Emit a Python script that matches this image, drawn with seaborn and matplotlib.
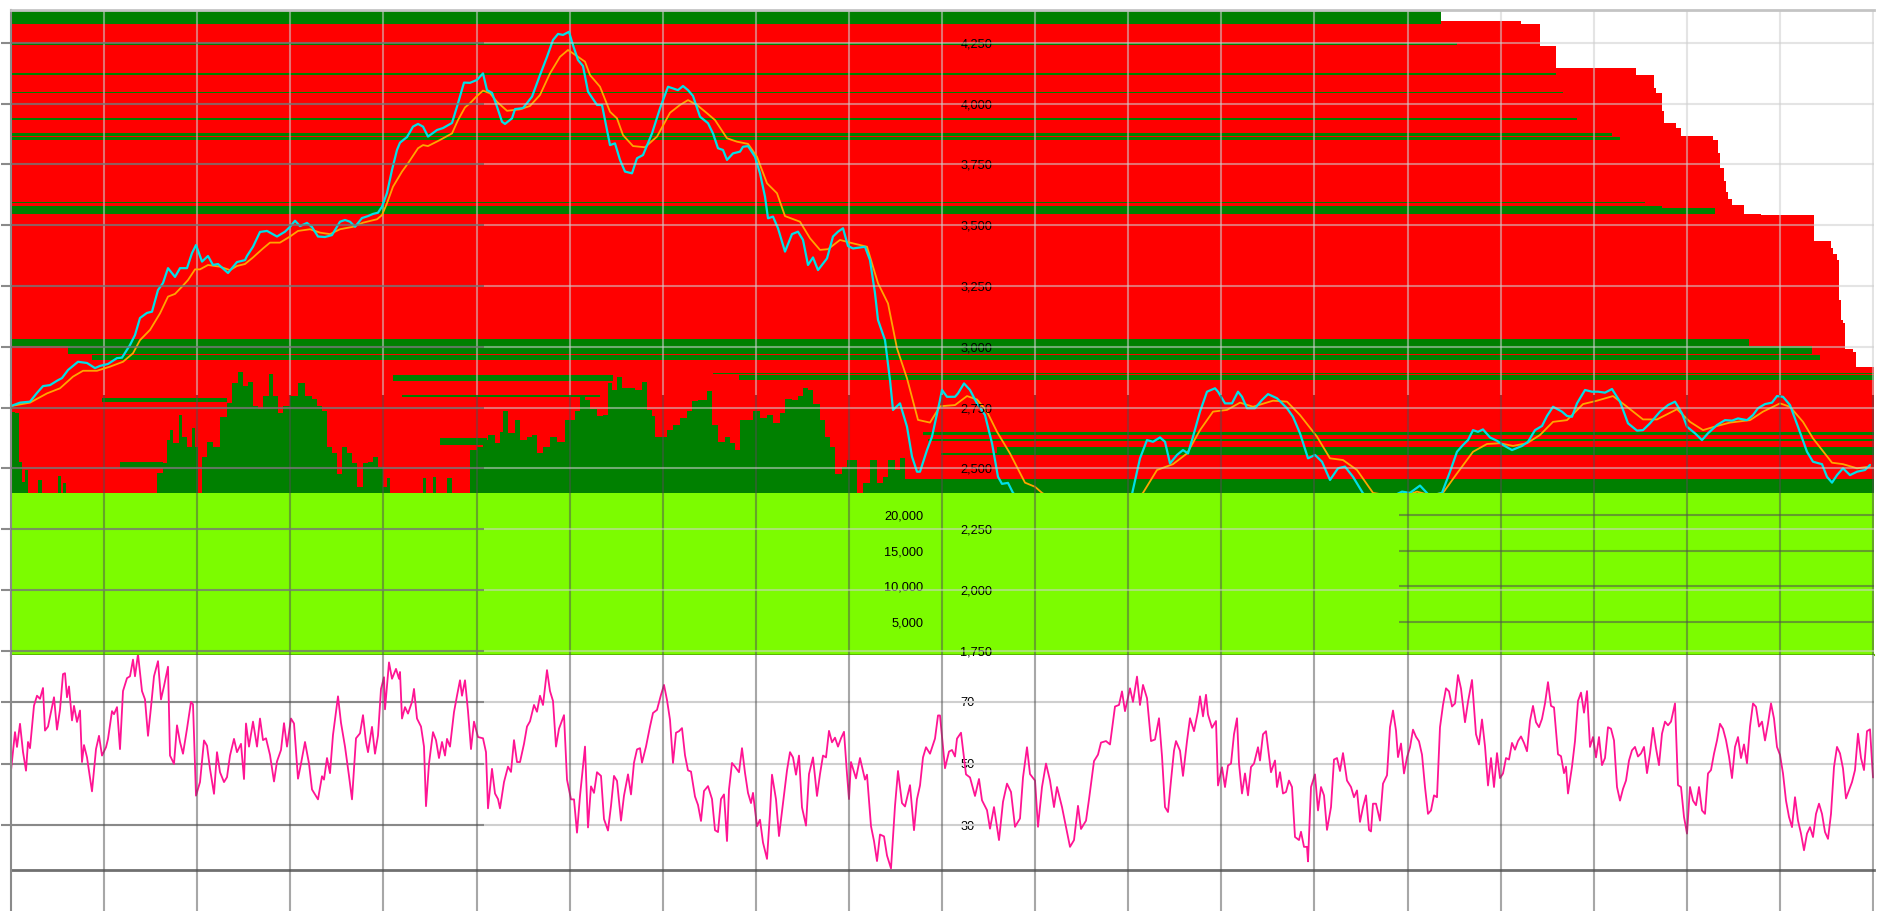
import numpy as np
import matplotlib
matplotlib.use("Agg")
import matplotlib.pyplot as plt
import seaborn as sns

# ---- data (x = bar position, left edge 11, right edge 1874) ----
price_ticks = [1750, 2000, 2250, 2500, 2750, 3000, 3250, 3500, 3750, 4000, 4250]
vol_ticks = [5000, 10000, 15000, 20000]
rsi_ticks = [30, 50, 70]

# red profile: top of each step (price) and where the step ends (x)
red_top = [4339, 4327, 4236, 4146, 4117, 4064, 4043, 3969, 3920, 3899, 3866, 3850, 3796, 3735, 3681,
           3636, 3607, 3583, 3546, 3542, 3435, 3406, 3381, 3357, 3192, 3110, 3097, 2990, 2978, 2916]
red_end = [1521, 1540, 1556, 1636, 1654, 1656, 1662, 1664, 1676, 1681, 1713, 1718, 1720, 1724, 1726,
           1728, 1732, 1744, 1761, 1814, 1831, 1833, 1837, 1839, 1841, 1843, 1845, 1853, 1856, 1874]

# green bands
green_hi = [4384, 4249, 4125, 4049, 3940, 3879, 3862, 3595, 3579, 3570, 3030, 3001, 2966, 2892, 2884,
            2884, 2788, 2801, 2526, 2625, 2649, 2621, 2588, 2563, 2457]
green_lo = [4327, 4241, 4117, 4043, 3934, 3866, 3850, 3589, 3570, 3546, 3001, 2972, 2945, 2886, 2859,
            2863, 2773, 2795, 2501, 2597, 2636, 2612, 2555, 2555, 1733]
green_from = [11, 11, 11, 11, 11, 11, 11, 11, 11, 11, 11, 68, 92, 713, 393,
              739, 102, 402, 120, 440, 923, 928, 997, 941, 903]
green_to = [1441, 1457, 1556, 1563, 1577, 1612, 1620, 1645, 1662, 1715, 1749, 1812, 1820, 1874, 613,
            1874, 227, 600, 163, 487, 1874, 1874, 1874, 997, 1874]

price_pts = [(11, 2756), (20, 2770), (30, 2774), (37, 2810), (43, 2838), (50, 2842), (57, 2860), (62, 2871),
    (68, 2904), (78, 2938), (87, 2933), (95, 2912), (100, 2921), (108, 2929), (117, 2953), (122, 2955),
    (130, 3007), (135, 3048), (140, 3118), (147, 3139), (152, 3144), (158, 3233), (163, 3262), (168, 3323),
    (175, 3287), (180, 3323), (187, 3323), (192, 3385), (196, 3418), (202, 3350), (208, 3373), (213, 3336),
    (218, 3340), (228, 3303), (237, 3348), (245, 3356), (247, 3373), (253, 3411), (260, 3472), (267, 3476),
    (277, 3453), (285, 3473), (290, 3493), (295, 3518), (300, 3496), (307, 3509), (312, 3492), (318, 3453),
    (325, 3451), (332, 3459), (340, 3514), (345, 3521), (350, 3514), (355, 3493), (362, 3529), (368, 3537),
    (373, 3546), (378, 3551), (382, 3576), (387, 3632), (392, 3727), (397, 3809), (400, 3839), (407, 3862),
    (413, 3905), (418, 3916), (423, 3905), (428, 3864), (437, 3891), (443, 3899), (452, 3920), (457, 3987),
    (464, 4086), (470, 4085), (477, 4097), (483, 4124), (487, 4055), (492, 4044), (497, 3987), (502, 3925),
    (505, 3916), (512, 3939), (515, 3977), (523, 3981), (532, 4028), (540, 4117), (547, 4192), (553, 4261),
    (558, 4286), (563, 4282), (569, 4295), (573, 4240), (578, 4179), (583, 4154), (588, 4049), (597, 3994),
    (602, 3994), (607, 3891), (610, 3829), (615, 3836), (620, 3768), (625, 3720), (632, 3713), (637, 3775),
    (643, 3788), (652, 3877), (660, 3980), (668, 4069), (673, 4062), (678, 4055), (683, 4072), (688, 4055),
    (693, 4031), (700, 3946), (708, 3919), (713, 3877), (718, 3816), (723, 3809), (727, 3768), (733, 3795),
    (740, 3802), (743, 3822), (748, 3825), (755, 3781), (760, 3713), (765, 3617), (768, 3528), (773, 3535),
    (778, 3487), (785, 3391), (792, 3463), (798, 3473), (803, 3439), (808, 3336), (813, 3367), (818, 3315),
    (827, 3363), (833, 3453), (838, 3473), (843, 3487), (848, 3414), (853, 3404), (865, 3411), (870, 3356),
    (875, 3220), (878, 3110), (885, 3027), (890, 2863), (893, 2740), (900, 2767), (907, 2671), (912, 2548),
    (917, 2486), (920, 2486), (927, 2575), (932, 2630), (940, 2781), (942, 2822), (947, 2794), (955, 2794),
    (958, 2808), (964, 2849), (970, 2822), (977, 2767), (985, 2719), (992, 2603), (998, 2465), (1002, 2436),
    (1008, 2440), (1013, 2399), (1030, 2330), (1060, 2280), (1090, 2260), (1110, 2300), (1125, 2360),
    (1132, 2394), (1140, 2541), (1147, 2616), (1153, 2609), (1160, 2627), (1165, 2609), (1170, 2520),
    (1177, 2555), (1183, 2575), (1188, 2561), (1193, 2630), (1200, 2733), (1207, 2815), (1215, 2829),
    (1218, 2815), (1225, 2767), (1232, 2767), (1238, 2815), (1242, 2794), (1247, 2747), (1255, 2747),
    (1262, 2781), (1268, 2805), (1277, 2788), (1287, 2747), (1293, 2712), (1300, 2644), (1308, 2541),
    (1315, 2555), (1322, 2527), (1330, 2452), (1338, 2500), (1345, 2507), (1353, 2465), (1363, 2397),
    (1380, 2350), (1395, 2390), (1402, 2404), (1410, 2399), (1420, 2429), (1430, 2385), (1442, 2399),
    (1450, 2486), (1457, 2568), (1463, 2596), (1468, 2616), (1473, 2657), (1478, 2650), (1483, 2660),
    (1490, 2627), (1497, 2613), (1503, 2596), (1512, 2575), (1522, 2592), (1528, 2609), (1535, 2657),
    (1542, 2674), (1547, 2715), (1553, 2753), (1562, 2733), (1567, 2715), (1572, 2712), (1577, 2767),
    (1585, 2822), (1592, 2815), (1598, 2815), (1605, 2811), (1612, 2826), (1620, 2774), (1628, 2685),
    (1637, 2655), (1643, 2657), (1650, 2685), (1660, 2733), (1668, 2760), (1675, 2774), (1682, 2726),
    (1687, 2671), (1695, 2644), (1702, 2616), (1708, 2644), (1717, 2678), (1725, 2698), (1732, 2696),
    (1738, 2705), (1747, 2698), (1753, 2719), (1758, 2747), (1765, 2764), (1772, 2770), (1777, 2797),
    (1783, 2794), (1790, 2760), (1798, 2671), (1807, 2568), (1813, 2527), (1822, 2517), (1827, 2465),
    (1832, 2441), (1837, 2472), (1843, 2500), (1850, 2472), (1857, 2486), (1865, 2493), (1870, 2514)]

ma_pts = [(11, 2756), (30, 2770), (47, 2808), (60, 2829), (73, 2877), (83, 2901), (97, 2901), (110, 2918),
    (123, 2938), (133, 2973), (140, 3027), (150, 3069), (160, 3137), (168, 3206), (175, 3217), (182, 3247),
    (188, 3274), (195, 3318), (200, 3318), (208, 3336), (220, 3329), (230, 3315), (237, 3332), (245, 3340),
    (253, 3367), (263, 3404), (270, 3428), (280, 3428), (290, 3453), (298, 3476), (310, 3483), (320, 3469),
    (330, 3463), (340, 3483), (353, 3493), (363, 3510), (377, 3524), (382, 3541), (387, 3590), (393, 3658),
    (402, 3720), (408, 3754), (418, 3816), (423, 3829), (428, 3825), (440, 3850), (452, 3877), (458, 3932),
    (465, 3984), (470, 4001), (477, 4031), (483, 4053), (490, 4042), (497, 4007), (507, 3970), (520, 3976),
    (530, 3990), (540, 4035), (550, 4124), (560, 4192), (568, 4220), (577, 4195), (585, 4172), (590, 4117),
    (600, 4069), (610, 3966), (617, 3939), (623, 3870), (633, 3825), (645, 3820), (657, 3864), (670, 3962),
    (680, 3994), (688, 4014), (697, 3994), (707, 3960), (715, 3932), (727, 3857), (737, 3843), (748, 3834),
    (757, 3781), (767, 3672), (777, 3631), (785, 3537), (800, 3514), (810, 3446), (820, 3398), (828, 3401),
    (840, 3439), (850, 3428), (867, 3411), (878, 3261), (888, 3178), (897, 2993), (907, 2870), (918, 2699),
    (930, 2688), (940, 2755), (955, 2760), (967, 2797), (977, 2783), (987, 2733), (997, 2650), (1010, 2561),
    (1025, 2441), (1035, 2424), (1042, 2399), (1070, 2330), (1100, 2300), (1130, 2350), (1143, 2399),
    (1157, 2493), (1173, 2517), (1187, 2561), (1200, 2657), (1213, 2733), (1227, 2740), (1240, 2770),
    (1253, 2753), (1273, 2778), (1287, 2774), (1300, 2719), (1317, 2630), (1330, 2541), (1343, 2534),
    (1357, 2493), (1373, 2399), (1400, 2380), (1417, 2404), (1430, 2390), (1443, 2399), (1457, 2479),
    (1473, 2568), (1487, 2600), (1500, 2603), (1513, 2592), (1527, 2603), (1540, 2637), (1553, 2691),
    (1567, 2698), (1583, 2764), (1597, 2778), (1613, 2797), (1627, 2753), (1643, 2701), (1657, 2701),
    (1677, 2743), (1690, 2691), (1703, 2657), (1717, 2674), (1730, 2688), (1750, 2698), (1763, 2733),
    (1780, 2767), (1790, 2753), (1803, 2691), (1813, 2623), (1832, 2523), (1843, 2517), (1857, 2500),
    (1870, 2507)]

vol_pts = [(11, 34500), (15, 34400), (19, 27500), (22, 24700), (25, 26300), (28, 22000), (38, 24900),
    (42, 22000), (58, 25500), (61, 22000), (63, 24500), (66, 22000), (157, 25900), (163, 27300),
    (167, 30600), (170, 32000), (173, 30100), (179, 34100), (182, 31000), (187, 29600), (192, 32300),
    (195, 29600), (198, 22000), (202, 28200), (207, 30300), (213, 29600), (220, 33800), (227, 35800),
    (232, 38600), (238, 40200), (243, 38100), (248, 38800), (253, 35300), (258, 35000), (263, 36700),
    (269, 39900), (273, 36700), (278, 34300), (283, 35300), (290, 36700), (298, 38600), (305, 36700),
    (312, 36400), (317, 35300), (322, 34600), (327, 29600), (332, 28700), (337, 25800), (342, 29600),
    (347, 28700), (352, 27300), (357, 24000), (363, 27300), (368, 27500), (373, 28200), (378, 26800),
    (383, 24000), (387, 25200), (390, 22000), (423, 25200), (426, 22000), (433, 25400), (436, 22000),
    (447, 25200), (452, 22000), (470, 29200), (477, 29600), (483, 30600), (488, 31300), (495, 30100),
    (500, 31700), (503, 34600), (508, 31500), (515, 33400), (520, 30600), (527, 31000), (532, 31300),
    (537, 28700), (543, 29600), (550, 31000), (557, 30300), (565, 33400), (570, 33400), (575, 34600),
    (580, 36700), (585, 36200), (590, 35000), (597, 33900), (603, 34100), (608, 38600), (612, 37600),
    (617, 39500), (622, 37900), (628, 37900), (635, 37600), (642, 38800), (647, 34800), (652, 33900),
    (655, 31000), (660, 31000), (667, 32000), (673, 32700), (680, 33600), (687, 34600), (692, 36000),
    (698, 36200), (707, 37400), (712, 32700), (718, 30300), (725, 31000), (730, 30100), (735, 29200),
    (740, 33400), (747, 33400), (753, 34600), (760, 33600), (767, 34100), (773, 32900), (780, 34300),
    (785, 36400), (792, 36200), (798, 36700), (803, 37900), (808, 37600), (813, 35700), (820, 33400),
    (825, 31000), (830, 29600), (835, 25800), (842, 26800), (847, 27800), (853, 27800), (857, 22000),
    (863, 24500), (870, 27800), (877, 24500), (883, 25400), (888, 27800), (895, 26300), (900, 28000),
    (905, 22000)]

rsi_pts = [(11, 47.7), (15, 60.2), (17, 55.4), (20, 62.9), (23, 53.8), (26, 47.7), (28, 57), (30, 55),
    (34, 68.8), (37, 72), (40, 71), (43, 74.5), (45, 60.7), (48, 62), (54, 71.5), (57, 61), (60, 67.5),
    (63, 79), (65, 79.3), (67, 71.5), (69, 75), (72, 64), (74, 68.7), (77, 63.5), (80, 67.2), (82, 50.5),
    (84, 56), (87, 52), (92, 41), (96, 54.7), (99, 59), (102, 52.6), (106, 55.3), (108, 58), (112, 67),
    (114, 66), (117, 68.3), (120, 54.7), (123, 73.5), (127, 77.7), (130, 78.3), (133, 83.7), (135, 78.3),
    (138, 85.5), (142, 73.5), (145, 70.8), (148, 59), (151, 68.3), (154, 78.3), (158, 83.2), (161, 70.8),
    (164, 75.1), (168, 81.4), (170, 52.6), (174, 49.9), (177, 62.4), (180, 57), (183, 53.2), (187, 61.3),
    (191, 70), (193, 69.2), (196, 39.6), (200, 44), (204, 57.5), (207, 55.8), (210, 48.3), (214, 40.2),
    (217, 53.7), (220, 47.2), (224, 44), (227, 45.6), (230, 52.6), (234, 58), (237, 53.7), (241, 56.4),
    (244, 45), (246, 63), (249, 55.5), (253, 63.6), (257, 55.5), (260, 64.6), (263, 57.6), (266, 58.2),
    (270, 52.8), (274, 44.2), (277, 50.7), (281, 54.4), (284, 63.1), (287, 55.5), (291, 64.6), (294, 63),
    (298, 45.1), (301, 50), (305, 57), (309, 50), (312, 41.6), (315, 40), (318, 38.4), (322, 45.9),
    (324, 44.8), (327, 51.8), (330, 46.9), (333, 59.3), (338, 71.8), (341, 63.2), (345, 55.5), (349, 46),
    (352, 38.4), (356, 58.2), (360, 59.8), (363, 65.7), (366, 57), (368, 53.7), (372, 61.9), (375, 53.2),
    (378, 59.1), (381, 74.2), (384, 78), (385, 67.6), (389, 82.8), (392, 77.5), (396, 80.7), (399, 77.5),
    (400, 79.7), (402, 64.6), (405, 68.3), (408, 66.2), (412, 70), (414, 74.2), (417, 64.6), (421, 62),
    (424, 55.5), (426, 36.2), (429, 50), (433, 60.2), (436, 57.6), (439, 51.8), (442, 57), (445, 52.6),
    (447, 58), (450, 55.5), (454, 66.7), (457, 72), (460, 77), (462, 72), (465, 77), (468, 67), (471, 54.7),
    (474, 63.6), (478, 58.6), (483, 58.2), (486, 53.7), (488, 35.5), (492, 48.3), (495, 40.3), (498, 38.5),
    (500, 35.5), (504, 44), (508, 49), (511, 47.3), (514, 57.6), (517, 50.5), (520, 50.5), (524, 56.4),
    (527, 62), (530, 63.7), (534, 69), (537, 66.8), (540, 72), (543, 69), (547, 80.3), (550, 73.5),
    (553, 70.3), (556, 55.5), (559, 61.3), (564, 65.7), (567, 44.8), (571, 38.4), (574, 38.4), (577, 27.6),
    (580, 39.5), (585, 55.5), (588, 29.3), (591, 42.6), (594, 40.5), (597, 47.2), (601, 46), (604, 32),
    (608, 28.3), (611, 36.3), (614, 46), (617, 44.4), (621, 31.5), (624, 39.6), (628, 46.5), (631, 40),
    (634, 50.3), (637, 54.6), (640, 55), (642, 50.3), (646, 55.5), (650, 62), (653, 66.4), (657, 67.4),
    (661, 72.3), (664, 75.5), (667, 70.6), (670, 64.2), (673, 50.2), (676, 60), (679, 60.5), (682, 61.5),
    (685, 52.7), (688, 47.8), (691, 47.4), (695, 39.3), (698, 36.6), (701, 31.4), (704, 41.1), (708, 42.7),
    (712, 38.5), (715, 28.4), (718, 27.8), (721, 38.5), (724, 40), (727, 24.9), (729, 41.6), (732, 50.2),
    (735, 49), (739, 47.2), (742, 55), (745, 47), (748, 40.5), (751, 37.2), (753, 40.5), (757, 29.7),
    (760, 31.8), (763, 24.4), (767, 19.1), (770, 34), (772, 46.4), (776, 38.4), (779, 26.5), (783, 37.2),
    (787, 47.8), (790, 53.7), (793, 52), (796, 46.4), (799, 52.6), (802, 35.8), (806, 29.9), (809, 46.6),
    (813, 52), (817, 39.5), (820, 46.6), (823, 52.6), (826, 52), (829, 60.6), (832, 56.9), (835, 58.4),
    (838, 55.5), (841, 58.2), (844, 60.3), (847, 46.6), (849, 38.5), (851, 50.5), (856, 45.2), (860, 51.8),
    (865, 44.8), (867, 46.4), (871, 29.7), (874, 24.9), (877, 18.4), (880, 27), (884, 26.4), (887, 20.2),
    (891, 16), (895, 36.3), (898, 47.6), (902, 37.2), (905, 36.1), (910, 43), (914, 28.4), (917, 38.5),
    (920, 42.9), (923, 52), (926, 55.3), (930, 53.2), (935, 58.1), (938, 65.6), (940, 65.6), (945, 48.5),
    (949, 53.9), (952, 54.4), (955, 52.3), (957, 58.1), (961, 60), (966, 46.5), (970, 45.5), (975, 39.5),
    (979, 45), (982, 38.1), (987, 34.9), (990, 28.9), (994, 35.9), (999, 25.2), (1003, 37.6), (1007, 43.5),
    (1011, 40.8), (1015, 29.5), (1020, 32.2), (1023, 45.5), (1027, 55.3), (1030, 46.6), (1035, 44.5),
    (1038, 29.5), (1042, 42.4), (1046, 50), (1050, 44.5), (1054, 35.9), (1057, 42.4), (1062, 35.9),
    (1066, 29.5), (1070, 23), (1074, 25.2), (1078, 36.3), (1081, 28.8), (1086, 31.5), (1089, 38.4),
    (1094, 50.8), (1098, 52.9), (1101, 56.8), (1106, 57.3), (1110, 56.2), (1115, 68.5), (1119, 69),
    (1122, 73.4), (1125, 67), (1130, 74.4), (1133, 70), (1137, 78.2), (1140, 69), (1143, 75.5), (1147, 71.2),
    (1151, 57.3), (1155, 57.8), (1159, 64.7), (1162, 52.4), (1165, 35.9), (1168, 34.3), (1171, 44.5),
    (1174, 54.2), (1176, 57.3), (1180, 54.2), (1183, 46), (1187, 57.3), (1190, 64.7), (1194, 60.5),
    (1198, 67), (1200, 71.8), (1203, 65.3), (1206, 72.3), (1208, 65.9), (1212, 61.6), (1216, 63.8),
    (1218, 42.9), (1222, 48.8), (1225, 42.4), (1228, 49.4), (1231, 50), (1234, 59.5), (1237, 64.7),
    (1239, 50), (1242, 40.3), (1245, 46.8), (1248, 39.7), (1251, 48.9), (1254, 50), (1258, 55.3),
    (1260, 51), (1263, 59.5), (1266, 60.5), (1269, 52.5), (1271, 47.2), (1275, 51), (1277, 42.4),
    (1280, 47.2), (1283, 40.3), (1286, 40.8), (1289, 44.5), (1292, 42.4), (1295, 26.2), (1299, 25.2),
    (1301, 27.9), (1304, 23), (1307, 23), (1308, 18.3), (1311, 42.4), (1315, 46.5), (1318, 34.8),
    (1321, 42.4), (1324, 39.7), (1327, 28.5), (1331, 35.9), (1334, 51.3), (1337, 51.8), (1340, 47.6),
    (1343, 53.4), (1347, 44.5), (1351, 42.4), (1354, 39.1), (1357, 41.3), (1360, 31.1), (1363, 35.9),
    (1366, 39.7), (1369, 28.5), (1371, 28), (1373, 37), (1376, 37), (1380, 31.5), (1383, 43.5),
    (1387, 46.2), (1390, 61.8), (1393, 67.2), (1396, 60.7), (1398, 52.1), (1401, 56.5), (1404, 46.8),
    (1407, 52), (1410, 55.3), (1413, 61), (1416, 58.7), (1419, 57.2), (1422, 52.9), (1425, 42.4),
    (1428, 33.7), (1431, 34.8), (1434, 39.7), (1437, 39.1), (1440, 61.8), (1443, 69), (1446, 74.4),
    (1449, 73.4), (1452, 68.5), (1455, 69.5), (1458, 78.7), (1461, 74.3), (1465, 63.4), (1468, 70),
    (1472, 77.1), (1476, 59.5), (1479, 56.2), (1482, 64.3), (1485, 55.6), (1488, 42.9), (1491, 51.8),
    (1494, 42.4), (1497, 53.4), (1500, 45.3), (1503, 46.8), (1506, 51.8), (1509, 51.3), (1512, 56.7),
    (1515, 54.5), (1518, 57.3), (1521, 58.8), (1524, 56.7), (1527, 54), (1530, 63.9), (1533, 68.7),
    (1536, 63.4), (1539, 61.8), (1542, 64.5), (1545, 69.5), (1548, 76.4), (1551, 68.7), (1554, 68.2),
    (1558, 53), (1561, 52.4), (1564, 46.9), (1566, 49), (1568, 40.3), (1572, 49), (1575, 57.3), (1578, 70.3),
    (1581, 73), (1584, 66.5), (1587, 73.5), (1590, 55.4), (1593, 58.6), (1596, 52), (1599, 58.6),
    (1602, 49.5), (1605, 51.8), (1608, 61.8), (1611, 61.3), (1614, 57.5), (1617, 42.4), (1620, 38),
    (1623, 41.8), (1626, 44.5), (1629, 51), (1632, 54.3), (1635, 55.4), (1638, 52.3), (1641, 53.3),
    (1644, 55.4), (1647, 46.9), (1650, 53.3), (1653, 61.6), (1656, 55), (1659, 49.5), (1662, 59.7),
    (1665, 63.6), (1668, 62.4), (1671, 63.6), (1675, 69.5), (1678, 43), (1681, 42.4), (1684, 32.7),
    (1687, 27.3), (1690, 42.4), (1693, 38), (1696, 36.5), (1699, 42.4), (1702, 34.8), (1705, 33.7),
    (1708, 46.8), (1711, 47.9), (1714, 53.2), (1717, 57.5), (1720, 62.9), (1723, 61.3), (1726, 57.6),
    (1729, 52.3), (1732, 45.3), (1735, 55.4), (1738, 58.6), (1741, 51.8), (1744, 56.2), (1747, 50.1),
    (1750, 62), (1753, 69.5), (1756, 68.4), (1759, 62), (1762, 63.6), (1765, 57.5), (1768, 63), (1771, 69.5),
    (1774, 64.6), (1777, 55.4), (1780, 52.8), (1783, 46.8), (1786, 38), (1789, 32.7), (1792, 29.4),
    (1795, 39.1), (1798, 31.5), (1801, 27.3), (1804, 21.9), (1807, 27.3), (1810, 29.4), (1813, 26.2),
    (1816, 33.7), (1819, 37), (1822, 33.7), (1825, 27.8), (1828, 25.6), (1831, 33.7), (1834, 48.9),
    (1837, 55.4), (1840, 53.3), (1843, 48.4), (1846, 38.7), (1849, 41.4), (1852, 44), (1855, 47.9),
    (1858, 59.7), (1861, 51.8), (1864, 47.9), (1867, 60.5), (1870, 61.1), (1873, 45.5)]

# ---- layout ----
W, H = 1884, 911
X0, X1 = 11, 1874
P_LIM = (1732.3, 4384.5)
grid_x = np.linspace(11, 1873, 21)[1:]
LIGHT = "#cfcfcf"
DARK = "#505050"
LABEL_SIZE = 9.2

sns.set_theme(style="white")
plt.rcParams["font.family"] = ["Liberation Sans", "DejaVu Sans"]

fig = plt.figure(figsize=(W / 100, H / 100), dpi=100)


def place(x0, y0, x1, y1):
    ax = fig.add_axes([x0 / W, 1 - y1 / H, (x1 - x0) / W, (y1 - y0) / H])
    ax.set_xlim(X0, X1)
    ax.patch.set_alpha(0)
    for s in ax.spines.values():
        s.set_visible(False)
    ax.set_xticks([])
    ax.set_yticks([])
    return ax


# price background: red profile + green bands
ax_p = place(11, 10, 1874, 655)
ax_p.patch.set_alpha(1)
ax_p.set_facecolor("white")
ax_p.set_ylim(*P_LIM)
red_bot = red_top[1:] + [P_LIM[0]]
ax_p.barh(red_bot, np.array(red_end) - X0, height=np.array(red_top) - np.array(red_bot),
          left=X0, align="edge", color="red", lw=0, antialiased=False)
ax_p.barh(green_lo, np.array(green_to) - np.array(green_from),
          height=np.array(green_hi) - np.array(green_lo), left=green_from,
          align="edge", color="green", lw=0, antialiased=False)

# light vertical grid over the upper part
ax_gt = place(11, 10, 1874, 395)
ax_gt.set_xticks(grid_x)
ax_gt.tick_params(axis="x", length=0, labelbottom=False)
ax_gt.grid(True, axis="x", color=LIGHT, alpha=0.55, lw=1.5)
ax_gt.spines["top"].set_visible(True)
ax_gt.spines["top"].set_color("#c4c4c4")
ax_gt.spines["top"].set_linewidth(2)
ax_gt.spines["left"].set_visible(True)
ax_gt.spines["left"].set_color("#8a8a8a")
ax_gt.spines["left"].set_linewidth(1.5)

# volume
ax_v = place(11, 300, 1874, 657)
ax_v.set_ylim(0, 50283)
vx, vv = zip(*vol_pts)
ax_v.fill_between(vx, vv, step="post", color="green", lw=0)

# price and moving average
ax_l = place(11, 10, 1874, 655)
ax_l.set_ylim(*P_LIM)
px, pv = zip(*price_pts)
mx, mv = zip(*ma_pts)
sns.lineplot(x=list(mx), y=list(mv), color="#ffa500", lw=1.3, estimator=None, ax=ax_l)
sns.lineplot(x=list(px), y=list(pv), color="#00e0e8", lw=1.6, estimator=None, ax=ax_l)
ax_l.set_xlabel("")
ax_l.set_ylabel("")
ax_l.set_xticks([])
ax_l.set_yticks([])

# lime volume panel
ax_lime = place(11, 493, 1874, 655)
ax_lime.patch.set_alpha(1)
ax_lime.set_facecolor("#7cfc00")
ax_lime.set_ylim(282, 23100)
ax_lime.hlines(vol_ticks, 1399, X1, color=DARK, alpha=0.55, lw=1.5)
ax_lime.set_yticks(vol_ticks, labels=[f"{v:,}" for v in vol_ticks])
ax_lime.spines["left"].set_position(("data", 926))
ax_lime.tick_params(axis="y", left=True, length=0, pad=2, labelsize=LABEL_SIZE, labelcolor="black")
ax_lime.spines["bottom"].set_visible(True)
ax_lime.spines["bottom"].set_color("#5cb800")
ax_lime.spines["bottom"].set_linewidth(1.5)

# RSI panel
ax_r = place(11, 655, 1874, 870)
ax_r.patch.set_alpha(1)
ax_r.set_facecolor("white")
ax_r.set_ylim(15.5, 85.2)
ax_r.hlines(rsi_ticks, X0, X1, color=LIGHT, lw=1.5)
ax_r.hlines(rsi_ticks, X0, 484, color=DARK, alpha=0.55, lw=1.5)
rx, rv = zip(*rsi_pts)
sns.lineplot(x=list(rx), y=list(rv), color="#ff1493", lw=1.3, estimator=None, ax=ax_r)
ax_r.set_xlabel("")
ax_r.set_ylabel("")
ax_r.set_xticks([])
ax_r.set_yticks(rsi_ticks, labels=[str(v) for v in rsi_ticks])
ax_r.spines["right"].set_position(("data", 950))
ax_r.tick_params(axis="y", left=True, right=False, labelleft=False, labelright=True,
                 length=7.5, width=1.5, color="#8a8a8a", pad=0, labelsize=LABEL_SIZE, labelcolor="black")
ax_r.spines["bottom"].set_visible(True)
ax_r.spines["bottom"].set_color("#707070")
ax_r.spines["bottom"].set_linewidth(2)

# darker vertical grid over the lower part
ax_gb = place(11, 395, 1874, 911)
ax_gb.set_xticks(grid_x)
ax_gb.tick_params(axis="x", length=0, labelbottom=False)
ax_gb.grid(True, axis="x", color=DARK, alpha=0.5, lw=1.5)
ax_gb.spines["left"].set_visible(True)
ax_gb.spines["left"].set_color("#8a8a8a")
ax_gb.spines["left"].set_linewidth(1.5)

# price axis labels and horizontal grid on top
ax_t = place(11, 10, 1874, 655)
ax_t.set_ylim(*P_LIM)
ax_t.hlines(price_ticks, X0, X1, color=LIGHT, alpha=0.55, lw=1.5)
ax_t.hlines(price_ticks, X0, 484, color=DARK, alpha=0.55, lw=1.5)
ax_t.set_yticks(price_ticks, labels=[f"{v:,}" for v in price_ticks])
ax_t.spines["right"].set_position(("data", 950))
ax_t.tick_params(axis="y", left=True, right=False, labelleft=False, labelright=True,
                 length=7.5, width=1.5, color="#8a8a8a", pad=0, labelsize=LABEL_SIZE, labelcolor="black")

fig.savefig("out.png", dpi=100)
